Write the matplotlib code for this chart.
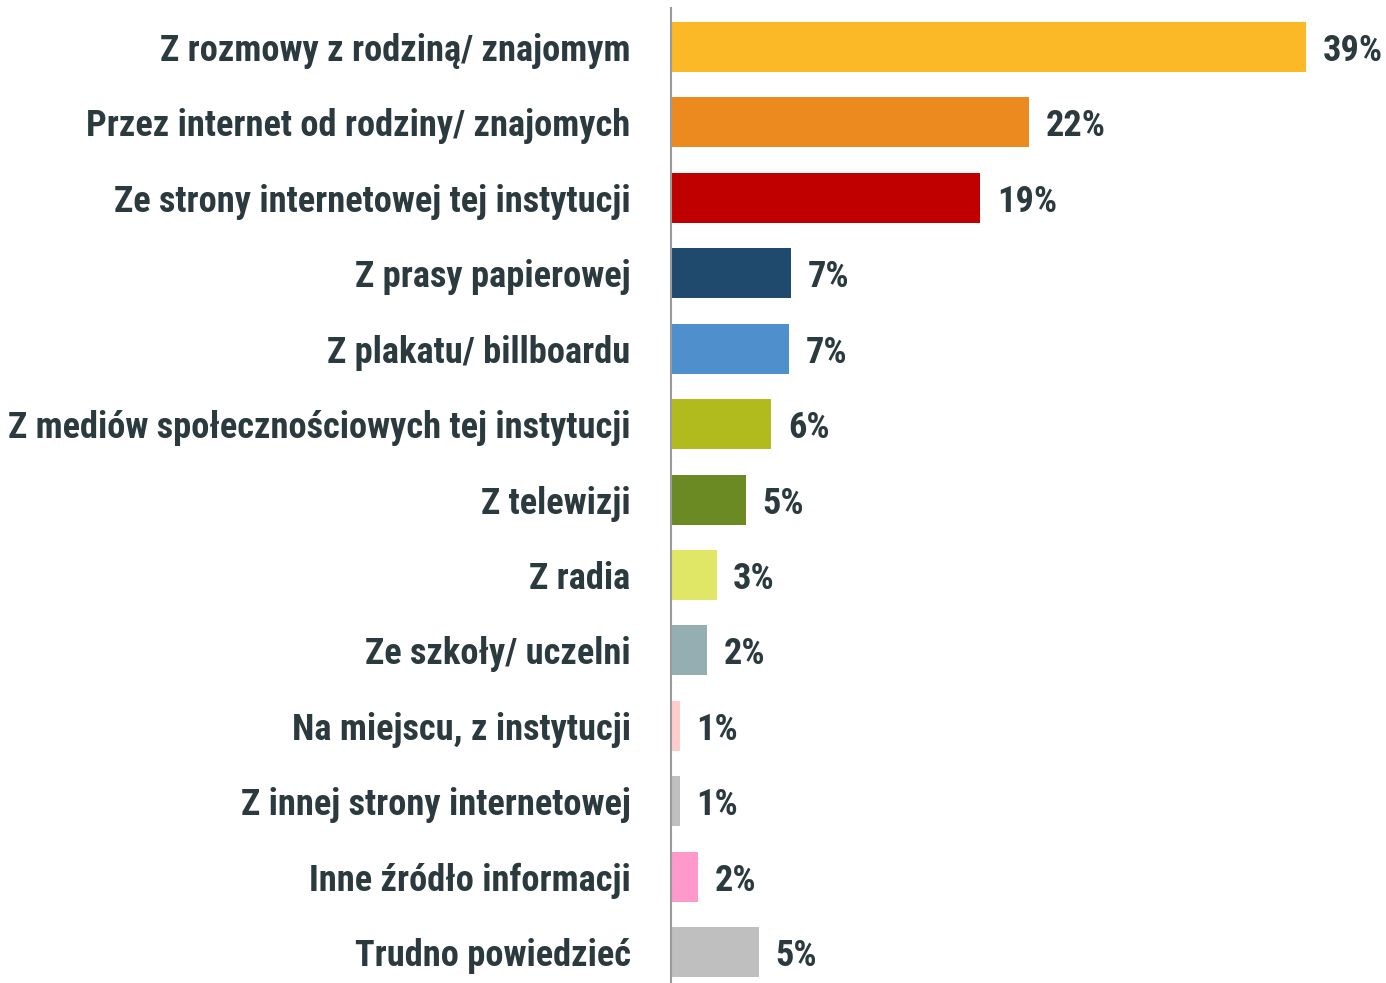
import matplotlib.pyplot as plt

categories = [
    "Z rozmowy z rodziną/ znajomym",
    "Przez internet od rodziny/ znajomych",
    "Ze strony internetowej tej instytucji",
    "Z prasy papierowej",
    "Z plakatu/ billboardu",
    "Z mediów społecznościowych tej instytucji",
    "Z telewizji",
    "Z radia",
    "Ze szkoły/ uczelni",
    "Na miejscu, z instytucji",
    "Z innej strony internetowej",
    "Inne źródło informacji",
    "Trudno powiedzieć",
]
values = [39.0, 22.0, 19.0, 7.4, 7.25, 6.15, 4.6, 2.8, 2.2, 0.55, 0.55, 1.65, 5.4]
value_labels = ["39%", "22%", "19%", "7%", "7%", "6%", "5%", "3%", "2%", "1%", "1%", "2%", "5%"]
colors = ["#FBB827", "#EC891F", "#C00000", "#1F4A6E", "#4F8FCC", "#B2BB1E",
          "#6B8A23", "#E0E766", "#94AEB1", "#FFCCCC", "#BFBFBF", "#FF99CC", "#BFBFBF"]

text_color = "#2B3A3E"
font = ["Roboto Condensed", "PT Sans Narrow", "DejaVu Sans"]
fsize = 26.2

fig = plt.figure(figsize=(13.86, 9.83), dpi=100)
# axes starts at the vertical axis line (x=671px)
ax = fig.add_axes([671 / 1386, 0, 651 / 1386, 975 / 983])

ypos = list(range(len(categories)))
ax.barh(ypos, values, height=0.663, color=colors)

ax.set_xlim(0, 40)
ax.set_ylim(12.41, -0.517)

for y, v, lab in zip(ypos, values, value_labels):
    ax.annotate(lab, (v, y), xytext=(12, 0), textcoords="offset points",
                ha="left", va="center_baseline", fontsize=fsize, fontweight="bold",
                color=text_color, family=font, annotation_clip=False)

ax.set_yticks(ypos)
ax.set_yticklabels(categories, fontsize=fsize, fontweight="bold",
                   color=text_color, family=font)
ax.tick_params(axis="y", length=0, pad=29)
ax.set_xticks([])

for s in ["top", "right", "bottom"]:
    ax.spines[s].set_visible(False)
ax.spines["left"].set_color("#999999")
ax.spines["left"].set_linewidth(1.5)

fig.savefig("out.png", dpi=100)
